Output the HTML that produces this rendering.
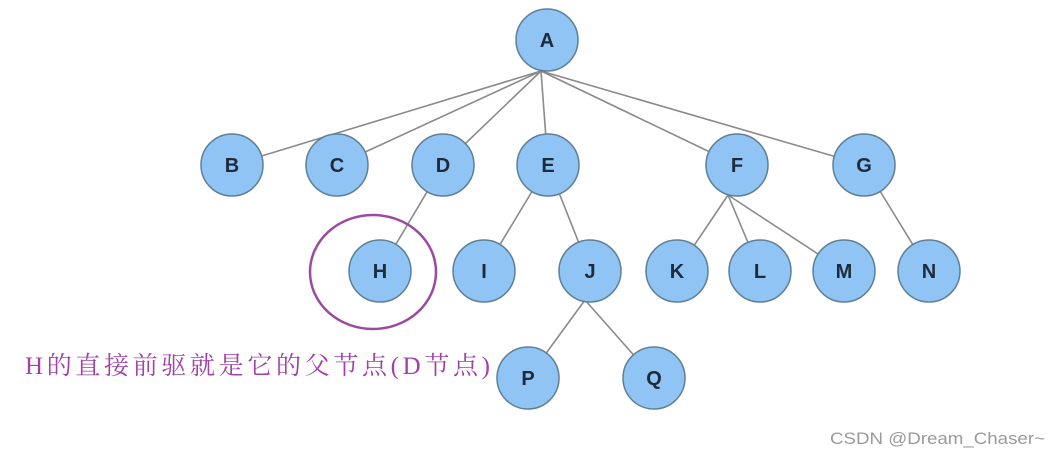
<!DOCTYPE html>
<html><head><meta charset="utf-8"><style>
body{margin:0;background:#fff;width:1060px;height:458px;overflow:hidden}
svg{display:block}
</style></head><body>
<svg width="1060" height="458" xmlns="http://www.w3.org/2000/svg">
<g stroke="#8a8a8a" stroke-width="1.6" fill="none">
<line x1="541" y1="71" x2="232" y2="165"/>
<line x1="541" y1="71" x2="337" y2="165"/>
<line x1="541" y1="71" x2="443" y2="165"/>
<line x1="541" y1="71" x2="548" y2="165"/>
<line x1="541" y1="71" x2="737" y2="165"/>
<line x1="541" y1="71" x2="864" y2="165"/>
<line x1="443" y1="165" x2="380" y2="271"/>
<line x1="548" y1="165" x2="484" y2="271"/>
<line x1="548" y1="165" x2="590" y2="271"/>
<line x1="728" y1="195" x2="677" y2="271"/>
<line x1="728" y1="195" x2="760" y2="271"/>
<line x1="728" y1="195" x2="844" y2="271"/>
<line x1="864" y1="165" x2="929" y2="271"/>
<line x1="585" y1="300" x2="528" y2="378"/>
<line x1="585" y1="300" x2="654" y2="378"/>
</g>
<g fill="#8fc4f4" stroke="#5f7f95" stroke-width="1.5">
<circle cx="547" cy="40" r="31"/>
<circle cx="232" cy="165" r="31"/><circle cx="337" cy="165" r="31"/>
<circle cx="443" cy="165" r="31"/><circle cx="548" cy="165" r="31"/>
<circle cx="737" cy="165" r="31"/><circle cx="864" cy="165" r="31"/>
<circle cx="380" cy="271" r="31"/><circle cx="484" cy="271" r="31"/>
<circle cx="590" cy="271" r="31"/><circle cx="677" cy="271" r="31"/>
<circle cx="760" cy="271" r="31"/><circle cx="844" cy="271" r="31"/>
<circle cx="929" cy="271" r="31"/><circle cx="528" cy="378" r="31"/>
<circle cx="654" cy="378" r="31"/>
</g>
<g font-family="Liberation Sans, sans-serif" font-size="20" font-weight="bold" fill="#1d2b3c" text-anchor="middle">
<text x="547" y="47">A</text>
<text x="232" y="172">B</text><text x="337" y="172">C</text>
<text x="443" y="172">D</text><text x="548" y="172">E</text>
<text x="737" y="172">F</text><text x="864" y="172">G</text>
<text x="380" y="278">H</text><text x="484" y="278">I</text>
<text x="590" y="278">J</text><text x="677" y="278">K</text>
<text x="760" y="278">L</text><text x="844" y="278">M</text>
<text x="929" y="278">N</text><text x="528" y="385">P</text>
<text x="654" y="385">Q</text>
</g>
<ellipse cx="373" cy="272" rx="63" ry="57" fill="none" stroke="#9b4aa0" stroke-width="2.5"/>
<text x="25" y="374" font-family="Liberation Serif, 'Noto Serif CJK SC', serif" font-size="25" fill="#a040a8" textLength="465" lengthAdjust="spacing">H的直接前驱就是它的父节点(D节点)</text>
<text x="830" y="444" font-family="Liberation Sans, sans-serif" font-size="17" fill="#9a9a9a" textLength="215" lengthAdjust="spacingAndGlyphs">CSDN @Dream_Chaser~</text>
</svg>
</body></html>
